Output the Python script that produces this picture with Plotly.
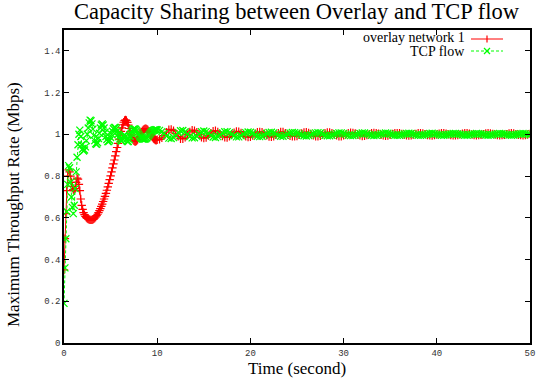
import numpy as np
import plotly.graph_objects as go

# ---------------- data ----------------
# time grid: 0.1 s steps up to 10 s, then 0.25 s steps up to 50 s
time_a = [round(0.1 * i, 2) for i in range(100)]
time_b = [round(10 + 0.25 * i, 2) for i in range(60)]
time_c = [round(25 + 0.25 * i, 2) for i in range(101)]

overlay_a = [
    0.35, 0.50, 0.62, 0.73, 0.80, 0.83, 0.82, 0.80, 0.77, 0.75,
    0.735, 0.73, 0.74, 0.77, 0.79, 0.785, 0.76, 0.73, 0.69, 0.66,
    0.64, 0.625, 0.615, 0.607, 0.601, 0.597, 0.594, 0.592, 0.590, 0.590,
    0.590, 0.592, 0.595, 0.599, 0.604, 0.610, 0.617, 0.625, 0.634, 0.644,
    0.655, 0.666, 0.678, 0.690, 0.703, 0.717, 0.732, 0.748, 0.765, 0.783,
    0.801, 0.820, 0.839, 0.858, 0.877, 0.897, 0.917, 0.937, 0.957, 0.977,
    0.996, 1.014, 1.031, 1.046, 1.058, 1.066, 1.069, 1.066, 1.057, 1.044,
    1.028, 1.012, 0.997, 0.985, 0.975, 0.969, 0.966, 0.966, 0.969, 0.975,
    0.983, 0.992, 1.001, 1.009, 1.016, 1.021, 1.025, 1.027, 1.027, 1.025,
    1.021, 1.015, 1.008, 1.000, 0.993, 0.986, 0.980, 0.976, 0.973, 0.972,
]
overlay_b = [
    0.974, 0.976, 0.983, 0.994, 1.010, 1.022, 1.024, 1.018, 1.004, 0.990,
    0.979, 0.979, 0.986, 0.998, 1.012, 1.020, 1.018, 1.010, 0.998, 0.986,
    0.982, 0.985, 0.994, 1.006, 1.015, 1.017, 1.012, 1.002, 0.992, 0.986,
    0.985, 0.990, 0.999, 1.008, 1.014, 1.013, 1.007, 0.998, 0.990, 0.987,
    0.988, 0.994, 1.003, 1.010, 1.012, 1.010, 1.003, 0.995, 0.989, 0.988,
    0.991, 0.998, 1.006, 1.011, 1.011, 1.006, 0.999, 0.993, 0.990, 0.991,
]
overlay_c = [
    0.992, 0.998, 1.004, 1.009, 1.010, 1.007, 1.002, 0.995, 0.991, 0.990,
    0.993, 0.999, 1.005, 1.009, 1.009, 1.006, 1.000, 0.995, 0.991, 0.991,
    0.995, 1.000, 1.005, 1.008, 1.007, 1.004, 0.999, 0.995, 0.992, 0.993,
    0.996, 1.001, 1.005, 1.007, 1.006, 1.003, 0.998, 0.995, 0.993, 0.994,
    0.998, 1.002, 1.005, 1.006, 1.005, 1.002, 0.998, 0.995, 0.994, 0.995,
    0.999, 1.002, 1.005, 1.006, 1.004, 1.001, 0.997, 0.995, 0.994, 0.996,
    0.999, 1.003, 1.005, 1.005, 1.003, 1.000, 0.997, 0.995, 0.995, 0.997,
    1.000, 1.003, 1.005, 1.005, 1.003, 1.000, 0.997, 0.995, 0.996, 0.998,
    1.001, 1.004, 1.005, 1.004, 1.002, 0.999, 0.996, 0.995, 0.996, 0.998,
    1.001, 1.004, 1.005, 1.004, 1.001, 0.998, 0.996, 0.995, 0.996, 0.999,
    1.002,
]

tcp_a = [
    0.19, 0.36, 0.50, 0.63, 0.76, 0.85, 0.84, 0.77, 0.70, 0.65,
    0.62, 0.66, 0.74, 0.82, 0.89, 0.95, 1.00, 1.02, 0.99, 0.95,
    0.93, 0.92, 0.925, 0.94, 0.97, 1.00, 1.03, 1.055, 1.068, 1.065,
    1.05, 1.025, 0.995, 0.97, 0.955, 0.952, 0.96, 0.98, 1.005, 1.03,
    1.045, 1.05, 1.045, 1.03, 1.01, 0.99, 0.975, 0.965, 0.965, 0.972,
    0.985, 1.00, 1.015, 1.027, 1.033, 1.033, 1.027, 1.015, 1.00, 0.988,
    0.978, 0.970, 0.968, 0.978, 0.992, 0.998, 0.990, 0.975, 0.965, 0.966,
    0.975, 0.990, 1.005, 1.016, 1.023, 1.026, 1.026, 1.023, 1.017, 1.009,
    1.000, 0.992, 0.986, 0.981, 0.978, 0.977, 0.977, 0.978, 0.980, 0.984,
    0.989, 0.995, 1.001, 1.007, 1.012, 1.016, 1.019, 1.021, 1.022, 1.022,
]
tcp_b = [
    1.021, 1.019, 1.013, 1.004, 0.992, 0.982, 0.980, 0.985, 0.996, 1.008,
    1.017, 1.018, 1.012, 1.002, 0.990, 0.983, 0.984, 0.991, 1.002, 1.012,
    1.016, 1.013, 1.005, 0.995, 0.987, 0.985, 0.989, 0.998, 1.007, 1.012,
    1.013, 1.008, 1.001, 0.993, 0.988, 0.988, 0.993, 1.001, 1.008, 1.011,
    1.010, 1.005, 0.998, 0.991, 0.989, 0.991, 0.997, 1.004, 1.009, 1.010,
    1.007, 1.001, 0.995, 0.991, 0.991, 0.995, 1.001, 1.006, 1.009, 1.008,
]
tcp_c = [
    1.006, 1.002, 0.997, 0.993, 0.992, 0.994, 0.998, 1.004, 1.007, 1.008,
    1.006, 1.001, 0.996, 0.993, 0.993, 0.995, 1.000, 1.004, 1.007, 1.007,
    1.004, 1.000, 0.996, 0.994, 0.994, 0.997, 1.001, 1.004, 1.006, 1.006,
    1.003, 0.999, 0.996, 0.994, 0.995, 0.998, 1.002, 1.004, 1.006, 1.005,
    1.002, 0.998, 0.996, 0.995, 0.996, 0.998, 1.002, 1.004, 1.005, 1.004,
    1.001, 0.998, 0.996, 0.995, 0.997, 0.999, 1.002, 1.004, 1.005, 1.003,
    1.001, 0.998, 0.996, 0.996, 0.998, 1.000, 1.002, 1.004, 1.004, 1.002,
    1.000, 0.998, 0.996, 0.996, 0.998, 1.000, 1.002, 1.004, 1.003, 1.002,
    0.999, 0.997, 0.996, 0.997, 0.998, 1.001, 1.003, 1.004, 1.003, 1.002,
    0.999, 0.997, 0.996, 0.997, 0.999, 1.002, 1.003, 1.004, 1.003, 1.001,
    0.998,
]

x_ticks = [0, 10, 20, 30, 40, 50]
y_ticks = [0, 0.2, 0.4, 0.6, 0.8, 1, 1.2, 1.4]
y_tick_text = ["0", "0.2", "0.4", "0.6", "0.8", "1", "1.2", "1.4"]

title_text = "Capacity Sharing between Overlay and TCP flow"
x_title = "Time (second)"
y_title = "Maximum Throughput Rate (Mbps)"
legend_names = ["overlay network 1", "TCP flow"]

time = time_a + time_b + time_c
overlay = overlay_a + overlay_b + overlay_c
tcp = tcp_a + tcp_b + tcp_c

RED = "#ff0000"
GREEN = "#00ff00"

fig = go.Figure()
fig.add_trace(go.Scatter(
    x=time, y=overlay, mode="lines+markers", name=legend_names[0],
    line=dict(color=RED, width=1),
    marker=dict(symbol="cross-thin", size=6, line=dict(color=RED, width=1.2)),
))
fig.add_trace(go.Scatter(
    x=time, y=tcp, mode="lines+markers", name=legend_names[1],
    line=dict(color=GREEN, width=1, dash="3px,2px"),
    marker=dict(symbol="x-thin", size=7, line=dict(color=GREEN, width=1.3)),
))

L, R, T, B = 64, 7, 30, 43
W, H = 537, 386
pw, ph = W - L - R, H - T - B

def px(xp):
    return (xp - L) / pw

def py(yp):
    return (H - B - yp) / ph

tickfont = dict(family="Liberation Mono, Courier New, monospace", size=9, color="#333333")
axis_common = dict(
    showgrid=False, zeroline=False, showline=True, linecolor="black", linewidth=1.5,
    mirror="allticks", ticks="inside", ticklen=5, tickwidth=1, tickcolor="black",
    tickfont=tickfont, automargin=False,
)

fig.update_layout(
    width=W, height=H,
    margin=dict(l=L, r=R, t=T, b=B),
    paper_bgcolor="white", plot_bgcolor="white",
    showlegend=False,
    xaxis=dict(range=[0, 50], tickvals=x_ticks, **axis_common),
    yaxis=dict(range=[0, 1.5], tickvals=y_ticks, ticktext=y_tick_text, **axis_common),
)

serif = "Liberation Serif, Times New Roman, serif"
ann = [
    dict(text=title_text, x=0.5, y=py(12), xref="paper", yref="paper",
         xanchor="center", yanchor="middle", showarrow=False,
         font=dict(family=serif, size=22.5, color="black")),
    dict(text=x_title, x=0.5, y=py(368), xref="paper", yref="paper",
         xanchor="center", yanchor="middle", showarrow=False,
         font=dict(family=serif, size=17, color="black")),
    dict(text=y_title, x=px(13), y=py(205), xref="paper", yref="paper",
         xanchor="center", yanchor="middle", showarrow=False, textangle=-90,
         font=dict(family=serif, size=17, color="black")),
    dict(text=legend_names[0], x=px(467), y=py(37.5), xref="paper", yref="paper",
         xanchor="right", yanchor="middle", showarrow=False,
         font=dict(family=serif, size=14, color="black")),
    dict(text=legend_names[1], x=px(467), y=py(51), xref="paper", yref="paper",
         xanchor="right", yanchor="middle", showarrow=False,
         font=dict(family=serif, size=14, color="black")),
]
fig.update_layout(annotations=ann)

shapes = [
    dict(type="line", xref="paper", yref="paper", x0=px(471), x1=px(503), y0=py(39), y1=py(39),
         line=dict(color=RED, width=1)),
    dict(type="line", xref="paper", yref="paper", x0=px(487), x1=px(487), y0=py(35.5), y1=py(42.5),
         line=dict(color=RED, width=1.2)),
    dict(type="line", xref="paper", yref="paper", x0=px(471), x1=px(503), y0=py(51), y1=py(51),
         line=dict(color=GREEN, width=1, dash="3px,2px")),
    dict(type="line", xref="paper", yref="paper", x0=px(484), x1=px(490), y0=py(48), y1=py(54),
         line=dict(color=GREEN, width=1.3)),
    dict(type="line", xref="paper", yref="paper", x0=px(484), x1=px(490), y0=py(54), y1=py(48),
         line=dict(color=GREEN, width=1.3)),
]
fig.update_layout(shapes=shapes)

fig.write_html("out.html", config={"displayModeBar": False},
               post_script="document.body.style.margin='0';")
